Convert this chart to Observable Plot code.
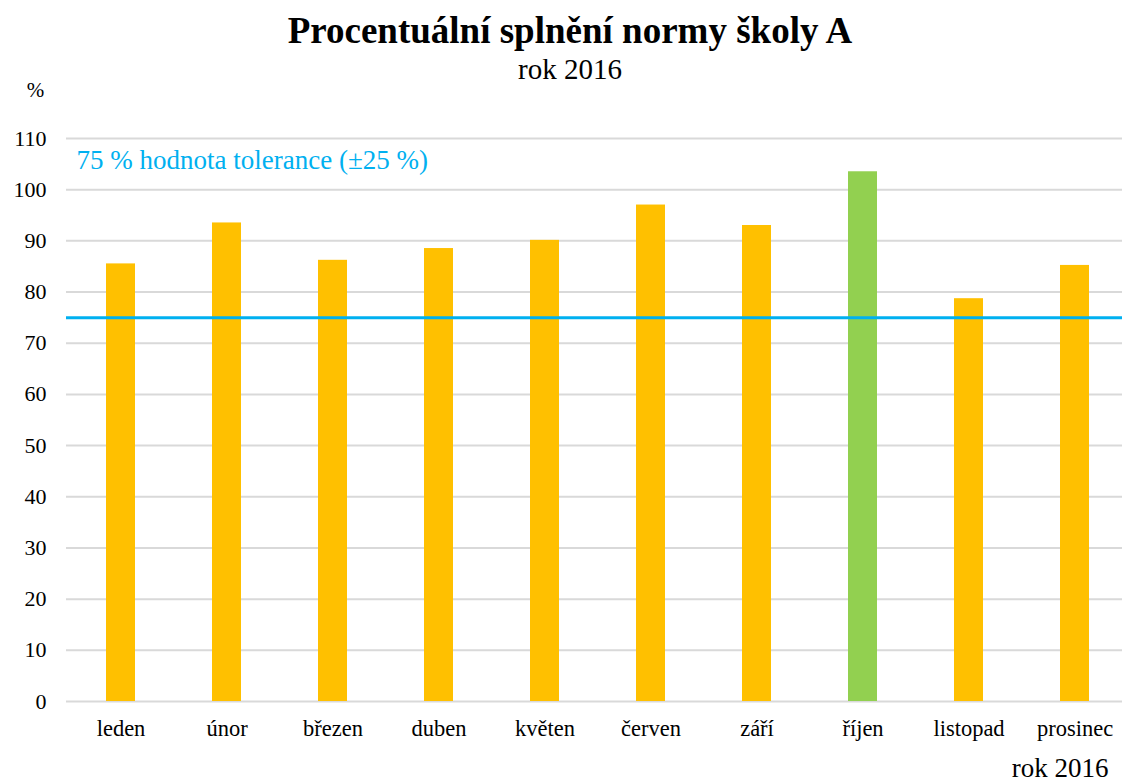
<!DOCTYPE html>
<html><head><meta charset="utf-8">
<script src="https://cdn.jsdelivr.net/npm/d3@7"></script>
<script src="https://cdn.jsdelivr.net/npm/@observablehq/plot@0.6"></script>
<style>
html,body{margin:0;padding:0;background:#fff;overflow:hidden;}
#head{height:80px;text-align:center;font-family:"Liberation Serif",serif;color:#000;position:relative;}
#t{position:absolute;left:18px;right:0;top:10px;font-size:37px;font-weight:bold;line-height:42px;}
#s{position:absolute;left:18px;right:0;top:52px;font-size:29px;line-height:34px;}
</style></head>
<body>
<div id="head"><div id="t">Procentuální splnění normy školy A</div><div id="s">rok 2016</div></div>
<div id="chart"></div>
<script>
const months = ["leden","únor","březen","duben","květen","červen","září","říjen","listopad","prosinec"];
const values = [85.5, 93.5, 86.2, 88.5, 90.1, 97.0, 93.0, 103.5, 78.7, 85.2];
const highlighted = [false,false,false,false,false,false,false,true,false,false];
const yTicks = [0,10,20,30,40,50,60,70,80,90,100,110];
const tolerance = [75];
const toleranceLabel = ["75 % hodnota tolerance (±25 %)"];
const toleranceLabelY = [105.7];
const yUnit = ["%"];
const xTitle = ["rok 2016"];

const data = months.map((m,i)=>({month:m, value:values[i], hi:highlighted[i]}));
const W = 1122, H = 702, ML = 66, MT = 58, MB = 81;
const FF = "'Liberation Serif', 'Times New Roman', serif";

const chart = Plot.plot({
  width: W, height: H,
  marginLeft: ML, marginRight: 0, marginTop: MT, marginBottom: MB,
  style: {fontFamily: FF, fontSize: "22px", color: "#000", background: "#fff", overflow: "visible"},
  x: {domain: months, range: [ML, W + 7], paddingInner: 0.727, paddingOuter: 0.3635, label: null},
  y: {domain: [0, 110], label: null},
  marks: [
    Plot.gridY(yTicks, {stroke: "#d9d9d9", strokeOpacity: 1, strokeWidth: 2}),
    Plot.barY(data, {x: "month", y: "value", fill: d => d.hi ? "#92d050" : "#ffc000"}),
    Plot.ruleY(tolerance, {stroke: "#00b0f0", strokeWidth: 3}),
    Plot.text(toleranceLabel, {y: toleranceLabelY, text: d => d, frameAnchor: "left", dx: 10, textAnchor: "start", fill: "#00b0f0", fontSize: 27, fontFamily: FF}),
    Plot.axisY({ticks: yTicks, tickSize: 0, tickPadding: 20, fontSize: 22, fontFamily: FF, label: null}),
    Plot.axisX({tickSize: 0, tickPadding: 19, fontSize: 22.5, fontFamily: FF, label: null}),
    Plot.text(yUnit, {text: d => d, frameAnchor: "top-left", dx: -31, dy: -56, textAnchor: "middle", fontSize: 21, fontFamily: FF}),
    Plot.text(xTitle, {text: d => d, frameAnchor: "bottom-right", dx: -14, dy: 75, textAnchor: "end", fontSize: 27, fontFamily: FF})
  ]
});
document.getElementById("chart").appendChild(chart);
</script>
</body></html>
